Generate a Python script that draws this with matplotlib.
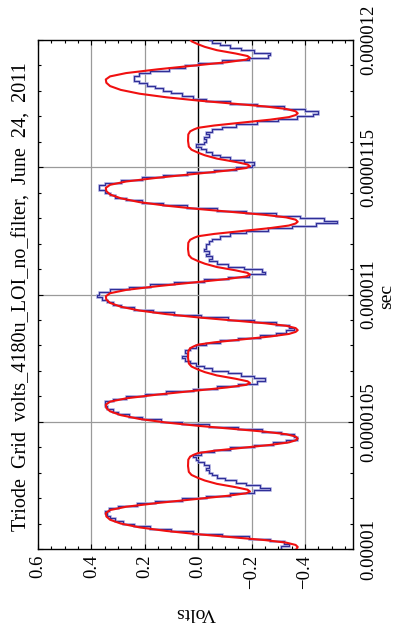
import numpy as np
import matplotlib
matplotlib.use("Agg")
import matplotlib.pyplot as plt
from matplotlib.ticker import MultipleLocator, FixedLocator

plt.rcParams['font.family'] = ['Liberation Serif', 'DejaVu Serif']

# ---------------- data ----------------
title = "Triode  Grid  volts_4180u_LOI_no_filter,  June  24,  2011"

# smooth fitted curve (time in microseconds, volts)
fit_time_us = [
    10.000, 10.008, 10.016, 10.025, 10.035, 10.046, 10.058, 10.071, 10.085, 10.100, 10.115, 10.128, 10.141,
    10.153, 10.166, 10.181, 10.197, 10.209, 10.219, 10.226, 10.233, 10.243, 10.256, 10.269, 10.279, 10.291,
    10.303, 10.326, 10.351, 10.363, 10.371, 10.377, 10.386, 10.397, 10.409, 10.419, 10.427, 10.434, 10.442,
    10.451, 10.461, 10.472, 10.484, 10.497, 10.511, 10.526, 10.541, 10.554, 10.567,
    10.579, 10.592, 10.607, 10.623, 10.635, 10.645, 10.652, 10.659, 10.669, 10.682, 10.695, 10.705, 10.717,
    10.729, 10.752, 10.777, 10.789, 10.797, 10.803, 10.812, 10.823, 10.835, 10.845, 10.853, 10.860, 10.868,
    10.877, 10.887, 10.898, 10.910, 10.923, 10.937, 10.952, 10.967, 10.980, 10.993,
    11.005, 11.018, 11.033, 11.049, 11.061, 11.071, 11.078, 11.085, 11.095, 11.108, 11.121, 11.131, 11.143,
    11.155, 11.178, 11.203, 11.215, 11.223, 11.229, 11.238, 11.249, 11.261, 11.271, 11.279, 11.286, 11.294,
    11.303, 11.313, 11.324, 11.336, 11.349, 11.363, 11.378, 11.393, 11.406, 11.419,
    11.431, 11.444, 11.459, 11.475, 11.487, 11.497, 11.504, 11.511, 11.521, 11.534, 11.547, 11.557, 11.569,
    11.581, 11.604, 11.629, 11.641, 11.649, 11.655, 11.664, 11.675, 11.687, 11.697, 11.705, 11.712, 11.720,
    11.729, 11.739, 11.750, 11.762, 11.775, 11.789, 11.804, 11.819, 11.832, 11.845,
    11.857, 11.870, 11.885, 11.901, 11.913, 11.923, 11.930, 11.937, 11.947, 11.960, 11.973, 11.983, 11.995,
    12.000,
]
fit_volts = [
    -0.368, -0.373, -0.365, -0.33, -0.25, -0.13, 0.00, 0.12, 0.22, 0.29, 0.33, 0.344, 0.346,
    0.33, 0.27, 0.15, 0.00, -0.11, -0.18, -0.194, -0.185, -0.14, -0.07, -0.025, 0.00, 0.025,
    0.035, 0.038, 0.037, 0.030, 0.015, 0.000, -0.06, -0.16, -0.27, -0.34, -0.365, -0.373, -0.365,
    -0.33, -0.25, -0.13, 0.00, 0.12, 0.22, 0.29, 0.33, 0.344, 0.346,
    0.33, 0.27, 0.15, 0.00, -0.11, -0.18, -0.194, -0.185, -0.14, -0.07, -0.025, 0.00, 0.025,
    0.035, 0.038, 0.037, 0.030, 0.015, 0.000, -0.06, -0.16, -0.27, -0.34, -0.365, -0.373, -0.365,
    -0.33, -0.25, -0.13, 0.00, 0.12, 0.22, 0.29, 0.33, 0.344, 0.346,
    0.33, 0.27, 0.15, 0.00, -0.11, -0.18, -0.194, -0.185, -0.14, -0.07, -0.025, 0.00, 0.025,
    0.035, 0.038, 0.037, 0.030, 0.015, 0.000, -0.06, -0.16, -0.27, -0.34, -0.365, -0.373, -0.365,
    -0.33, -0.25, -0.13, 0.00, 0.12, 0.22, 0.29, 0.33, 0.344, 0.346,
    0.33, 0.27, 0.15, 0.00, -0.11, -0.18, -0.194, -0.185, -0.14, -0.07, -0.025, 0.00, 0.025,
    0.035, 0.038, 0.037, 0.030, 0.015, 0.000, -0.06, -0.16, -0.27, -0.34, -0.365, -0.373, -0.365,
    -0.33, -0.25, -0.13, 0.00, 0.12, 0.22, 0.29, 0.33, 0.344, 0.346,
    0.33, 0.27, 0.15, 0.00, -0.11, -0.18, -0.194, -0.185, -0.14, -0.07, -0.025, 0.00, 0.025,
    0.028,
]

# measured trace, sampled every 0.01 us from 10.00 us to 12.00 us
meas_start_us = 10.0
meas_step_us = 0.01
meas_volts = [
    -0.31, -0.34, -0.32, -0.27, -0.19, -0.09, 0.02, 0.10, 0.18, 0.24,
    0.28, 0.31, 0.33, 0.34, 0.35, 0.335, 0.30, 0.23, 0.16, 0.06,
    -0.03, -0.12, -0.21, -0.27, -0.23, -0.18, -0.14, -0.10, -0.07, -0.05,
    -0.04, -0.03, -0.04, -0.02, 0.00, 0.01, 0.02, -0.01, -0.06, -0.12,
    -0.21, -0.28, -0.33, -0.37, -0.36, -0.31, -0.24, -0.15, -0.04, 0.06,
    0.14, 0.21, 0.26, 0.30, 0.32, 0.34, 0.35, 0.35, 0.32, 0.27,
    0.20, 0.12, 0.02, -0.07, -0.15, -0.22, -0.25, -0.21, -0.16, -0.11,
    -0.05, -0.02, 0.01, 0.03, 0.05, 0.06, 0.04, 0.05, 0.03, 0.01,
    -0.03, -0.08, -0.15, -0.23, -0.29, -0.33, -0.36, -0.34, -0.29, -0.21,
    -0.11, -0.01, 0.09, 0.17, 0.24, 0.29, 0.32, 0.34, 0.36, 0.38,
    0.37, 0.33, 0.26, 0.18, 0.09, -0.02, -0.11, -0.19, -0.25, -0.24,
    -0.17, -0.11, -0.07, -0.04, -0.05, -0.03, -0.04, -0.02, -0.03, -0.03,
    -0.04, -0.05, -0.08, -0.12, -0.18, -0.26, -0.35, -0.44, -0.52, -0.47,
    -0.38, -0.29, -0.18, -0.07, 0.04, 0.13, 0.21, 0.27, 0.31, 0.33,
    0.35, 0.37, 0.37, 0.35, 0.29, 0.21, 0.13, 0.04, -0.06, -0.14,
    -0.20, -0.21, -0.17, -0.12, -0.08, -0.05, -0.03, -0.01, 0.01, -0.02,
    -0.03, -0.02, -0.04, -0.03, -0.05, -0.09, -0.14, -0.22, -0.30, -0.37,
    -0.43, -0.45, -0.40, -0.32, -0.22, -0.12, -0.03, 0.02, 0.06, 0.10,
    0.13, 0.16, 0.19, 0.22, 0.24, 0.24, 0.22, 0.18, 0.11, 0.05,
    0.00, -0.09, -0.19, -0.26, -0.27, -0.21, -0.16, -0.12, -0.08, -0.05,
    -0.04,
]

volt_ticks = [0.6, 0.4, 0.2, 0.0, -0.2, -0.4]
volt_tick_labels = ["0.6", "0.4", "0.2", "0.0", "\u22120.2", "\u22120.4"]
time_ticks_us = [10.0, 10.5, 11.0, 11.5, 12.0]
time_tick_labels = ["0.00001", "0.0000105", "0.000011", "0.0000115", "0.000012"]

# ---------------- figure ----------------
W, H = 405, 627
fig = plt.figure(figsize=(W / 100, H / 100), dpi=100)
L, R, T, B = 38, 353, 40, 549
ax = fig.add_axes([L / W, 1 - B / H, (R - L) / W, (B - T) / H])

ax.set_xlim(0.6, -0.58)
ax.set_ylim(10.0, 12.0)

# grid
for v in [0.4, 0.2, -0.2, -0.4]:
    ax.axvline(v, color='#9a9a9a', lw=0.9, zorder=1)
ax.axvline(0.0, color='black', lw=1.0, zorder=1)
for t in [10.5, 11.0, 11.5]:
    ax.axhline(t, color='#9a9a9a', lw=0.9, zorder=1)

# measured trace as sample-and-hold steps (time is vertical)
mt = meas_start_us + meas_step_us * np.arange(len(meas_volts))
mv = np.asarray(meas_volts)
step_t = np.repeat(mt, 2)[1:]
step_v = np.repeat(mv, 2)[:-1]
ax.plot(step_v, step_t, color='#a4a4dc', lw=1.8, zorder=2, solid_joinstyle='miter')
ax.plot(step_v, step_t, color='#2f2f98', lw=0.8, zorder=3)

# fitted curve
ax.plot(fit_volts, fit_time_us, color='#f01010', lw=1.5, zorder=4)

# ticks
ax.xaxis.set_major_locator(FixedLocator(volt_ticks))
ax.set_xticklabels(volt_tick_labels, rotation=90, fontsize=13.5)
ax.xaxis.set_minor_locator(MultipleLocator(0.05))
ax.yaxis.set_major_locator(FixedLocator(time_ticks_us))
ax.yaxis.set_minor_locator(MultipleLocator(0.1))
ax.yaxis.tick_right()
ax.set_yticklabels(time_tick_labels, rotation=90, fontsize=13.5, va='center')
ax.tick_params(axis='both', which='both', direction='in', top=True, bottom=True,
               left=True, right=True, width=0.8, color='black')
ax.tick_params(axis='both', which='major', length=3.5)
ax.tick_params(axis='both', which='minor', length=2)
ax.tick_params(axis='x', which='major', pad=4)
ax.tick_params(axis='y', which='major', pad=5)
for s in ax.spines.values():
    s.set_linewidth(1.0)

# labels
fig.text(196 / W, 1 - 612 / H, "Volts", rotation=180, ha='center', va='center', fontsize=14)
fig.text(387 / W, 1 - 296 / H, "sec", rotation=90, ha='center', va='center', fontsize=14)
fig.text(22 / W, 1 - 297 / H, title, rotation=90, ha='center', va='center', fontsize=14.5)

fig.savefig("out.png", dpi=100)
